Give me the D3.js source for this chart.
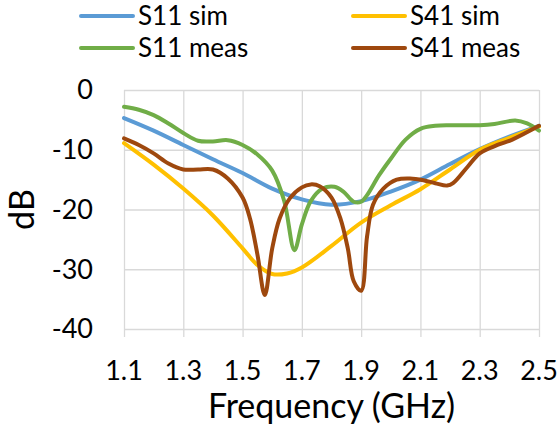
<!doctype html>
<html lang="en">
<head>
  <meta charset="utf-8">
  <title>S-parameters</title>
  <script src="https://d3js.org/d3.v7.min.js"></script>
  <style>
    body { margin: 0; background: #fff; }
    svg { display: block; font-family: Lato, "Open Sans", sans-serif; }
    .grid line { stroke: #d9d9d9; stroke-width: 1.3; }
    .grid path { display: none; }
  </style>
</head>
<body>
<svg id="chart" width="559" height="435"></svg>
<script>

// x ticks (GHz) and y ticks (dB)
var xTicks = [1.1, 1.3, 1.5, 1.7, 1.9, 2.1, 2.3, 2.5];
var yTicks = [0, -10, -20, -30, -40];

var s11SimF = [1.1, 1.2, 1.3, 1.4, 1.5, 1.6, 1.7, 1.8, 1.9, 2.0, 2.1, 2.2, 2.3, 2.4, 2.5];
var s11SimDb = [-4.7, -6.8, -9.2, -11.6, -13.9, -16.5, -18.3, -19.2, -18.6, -17.0, -15.0, -12.4, -9.9, -7.8, -6.0];

var s41SimF = [1.1, 1.2, 1.3, 1.4, 1.5, 1.55, 1.6, 1.65, 1.7, 1.8, 1.9, 2.0, 2.1, 2.2, 2.3, 2.4, 2.5];
var s41SimDb = [-8.9, -12.5, -16.5, -21.0, -26.5, -29.3, -30.8, -30.7, -29.7, -26.1, -22.2, -19.3, -16.6, -13.3, -10.0, -8.0, -6.1];

var s11MeasF = [1.1, 1.15, 1.2, 1.25, 1.3, 1.35, 1.4, 1.45, 1.5, 1.55, 1.6, 1.64, 1.675, 1.7, 1.73, 1.77, 1.81, 1.84, 1.875, 1.9, 1.92, 1.96, 2.0, 2.05, 2.1, 2.15, 2.2, 2.3, 2.35, 2.42, 2.46, 2.5];
var s11MeasDb = [-2.8, -3.3, -4.2, -5.6, -7.2, -8.5, -8.6, -8.4, -9.2, -10.8, -13.5, -18.5, -26.8, -22.5, -18.6, -16.5, -16.2, -17.0, -18.7, -18.7, -17.6, -14.3, -11.5, -8.3, -6.5, -6.0, -5.9, -5.9, -5.7, -5.1, -5.6, -6.8];

var s41MeasF = [1.1, 1.15, 1.2, 1.25, 1.3, 1.35, 1.4, 1.45, 1.5, 1.525, 1.55, 1.575, 1.6, 1.625, 1.66, 1.7, 1.73, 1.76, 1.8, 1.83, 1.855, 1.875, 1.9, 1.92, 1.94, 1.975, 2.02, 2.065, 2.11, 2.15, 2.19, 2.21, 2.26, 2.3, 2.36, 2.41, 2.5];
var s41MeasDb = [-8.1, -9.2, -10.6, -12.3, -13.3, -13.3, -13.3, -14.8, -18.0, -21.5, -27.5, -34.3, -26.5, -21.5, -18.1, -16.3, -15.8, -16.1, -18.0, -21.5, -26.5, -32.0, -33.6, -24.5, -19.2, -16.5, -15.0, -14.8, -15.1, -15.6, -16.0, -15.6, -12.8, -10.6, -9.2, -8.3, -6.0];

var seriesNames = ['S11 sim', 'S41 sim', 'S11 meas', 'S41 meas'];
var colors = ['#5b9bd5', '#ffc000', '#70ad47', '#9e480e'];

var series = [
  d3.zip(s11SimF, s11SimDb),
  d3.zip(s41SimF, s41SimDb),
  d3.zip(s11MeasF, s11MeasDb),
  d3.zip(s41MeasF, s41MeasDb)
];

var svg = d3.select('#chart');
// plot box (don't call it "top", that's window.top)
var plotL = 124, plotR = 539, plotT = 90, plotB = 329;

var x = d3.scaleLinear().domain([1.1, 2.5]).range([plotL, plotR]);
var y = d3.scaleLinear().domain([-40, 0]).range([plotB, plotT]);

// vertical grid + little ticks under the bottom line
svg.append('g')
  .attr('class', 'grid')
  .attr('transform', 'translate(0,' + plotT + ')')
  .call(d3.axisBottom(x).tickValues(xTicks).tickSize(plotB - plotT + 8).tickFormat(''));

// horizontal grid
svg.append('g')
  .attr('class', 'grid')
  .attr('transform', 'translate(' + plotL + ',0)')
  .call(d3.axisRight(y).tickValues(yTicks).tickSize(plotR - plotL).tickFormat(''));

// tick labels
svg.append('g').selectAll('text')
  .data(xTicks)
  .join('text')
  .attr('x', d => x(d))
  .attr('y', 380)
  .attr('text-anchor', 'middle')
  .attr('font-size', 27)
  .attr('fill', '#000')
  .text(d => d.toFixed(1));

svg.append('g').selectAll('text')
  .data(yTicks)
  .join('text')
  .attr('x', 93)
  .attr('y', d => y(d))
  .attr('dy', '0.35em')
  .attr('text-anchor', 'end')
  .attr('font-size', 27)
  .attr('fill', '#000')
  .text(d => d);

// axis titles
svg.append('text')
  .attr('x', (plotL + plotR) / 2)
  .attr('y', 418)
  .attr('text-anchor', 'middle')
  .attr('font-size', 34)
  .text('Frequency (GHz)');

svg.append('text')
  .attr('transform', 'translate(22,' + ((plotT + plotB) / 2) + ') rotate(-90)')
  .attr('dy', '0.35em')
  .attr('text-anchor', 'middle')
  .attr('font-size', 34)
  .text('dB');

// curves
var line = d3.line()
  .x(d => x(d[0]))
  .y(d => y(d[1]))
  .curve(d3.curveCatmullRom.alpha(0.5));

svg.append('g').selectAll('path')
  .data(series)
  .join('path')
  .attr('d', line)
  .attr('fill', 'none')
  .attr('stroke', (d, i) => colors[i])
  .attr('stroke-width', 4)
  .attr('stroke-linejoin', 'round')
  .attr('stroke-linecap', 'round');

// legend, 2 columns
var legend = svg.append('g').selectAll('g')
  .data(seriesNames)
  .join('g')
  .attr('transform', (d, i) => 'translate(' + (i % 2 ? 353 : 81) + ',' + (i < 2 ? 16 : 48) + ')');

legend.append('line')
  .attr('x1', 0).attr('x2', 52)
  .attr('stroke', (d, i) => colors[i])
  .attr('stroke-width', 4)
  .attr('stroke-linecap', 'round');

legend.append('text')
  .attr('x', 57)
  .attr('dy', '0.35em')
  .attr('font-size', 26)
  .text(d => d);

</script>
</body>
</html>
